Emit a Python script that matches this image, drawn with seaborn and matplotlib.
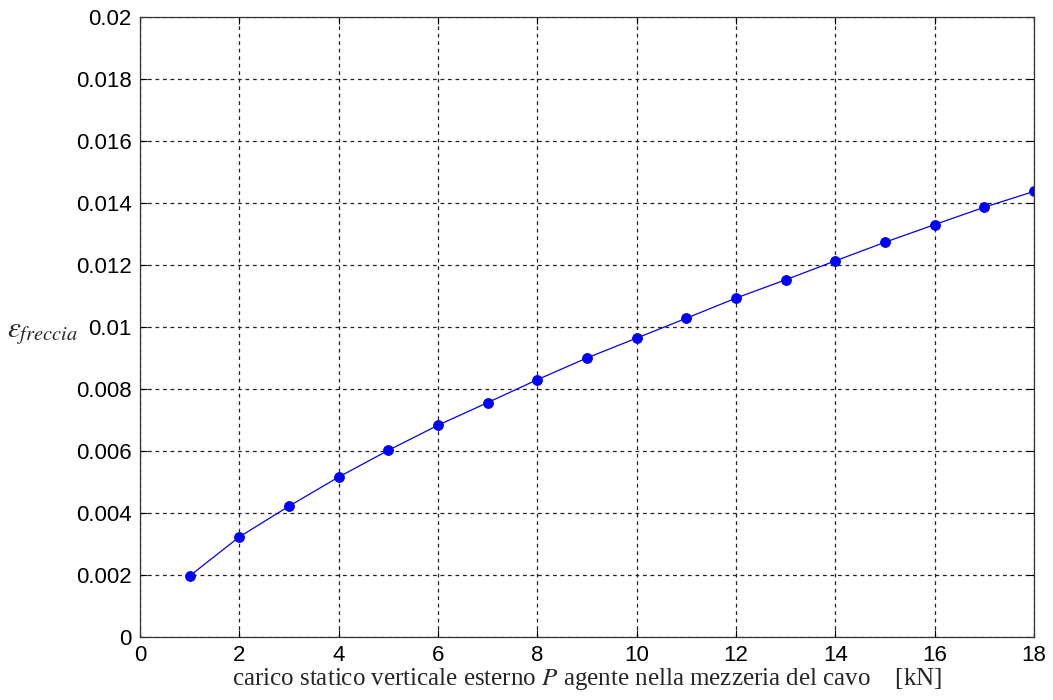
import numpy as np
import pandas as pd
import matplotlib
matplotlib.use("Agg")
import matplotlib.pyplot as plt
import seaborn as sns

# carico P [kN] e deformazione della freccia
carico = [1, 2, 3, 4, 5, 6, 7, 8, 9, 10, 11, 12, 13, 14, 15, 16, 17, 18]
eps_freccia = [0.00197, 0.00323, 0.00422, 0.00516, 0.00602, 0.00683,
               0.00756, 0.00830, 0.00900, 0.00964, 0.01028, 0.01093,
               0.01152, 0.01213, 0.01273, 0.01330, 0.01386, 0.01437]

x_ticks = np.arange(0, 19, 2)
y_ticks = np.arange(0, 0.0201, 0.002)

df = pd.DataFrame({"P": carico, "eps": eps_freccia})

sns.set_style("ticks")
plt.rcParams["font.family"] = ["Liberation Sans", "DejaVu Sans"]
plt.rcParams["mathtext.fontset"] = "stix"

fig, ax = plt.subplots(figsize=(10.53, 7.0), dpi=100)
fig.subplots_adjust(left=0.133, right=0.982, top=0.976, bottom=0.09)

sns.lineplot(data=df, x="P", y="eps", color="#0000ff", linewidth=0.9,
             marker="o", markersize=7, markeredgecolor="#0000ff", ax=ax)

ax.set_xlim(0, 18)
ax.set_ylim(0, 0.02)
ax.set_xticks(x_ticks)
ax.set_yticks(y_ticks)
ax.set_xticklabels([f"{v:g}" for v in x_ticks])
ax.set_yticklabels([f"{round(v, 3):g}" for v in y_ticks])

ax.grid(True, color="#222222", linestyle=(0, (3, 3)), linewidth=0.9)
ax.tick_params(direction="in", length=5, width=0.8, labelsize=16,
               top=True, right=True, colors="black", pad=6)
for s in ax.spines.values():
    s.set_visible(True)
    s.set_color("#333333")
    s.set_linewidth(0.9)

ax.set_xlabel("carico statico verticale esterno $P$ agente nella mezzeria del cavo    [kN]",
              family="Liberation Serif", fontsize=18, labelpad=0)

# etichetta y orizzontale, epsilon con pedice "freccia"
ax.set_ylabel(r"$\varepsilon_{freccia}$", fontsize=21, rotation=0,
              ha="left", va="center")
ax.yaxis.set_label_coords(-0.149, 0.49)

plt.savefig("out.png", dpi=100)
